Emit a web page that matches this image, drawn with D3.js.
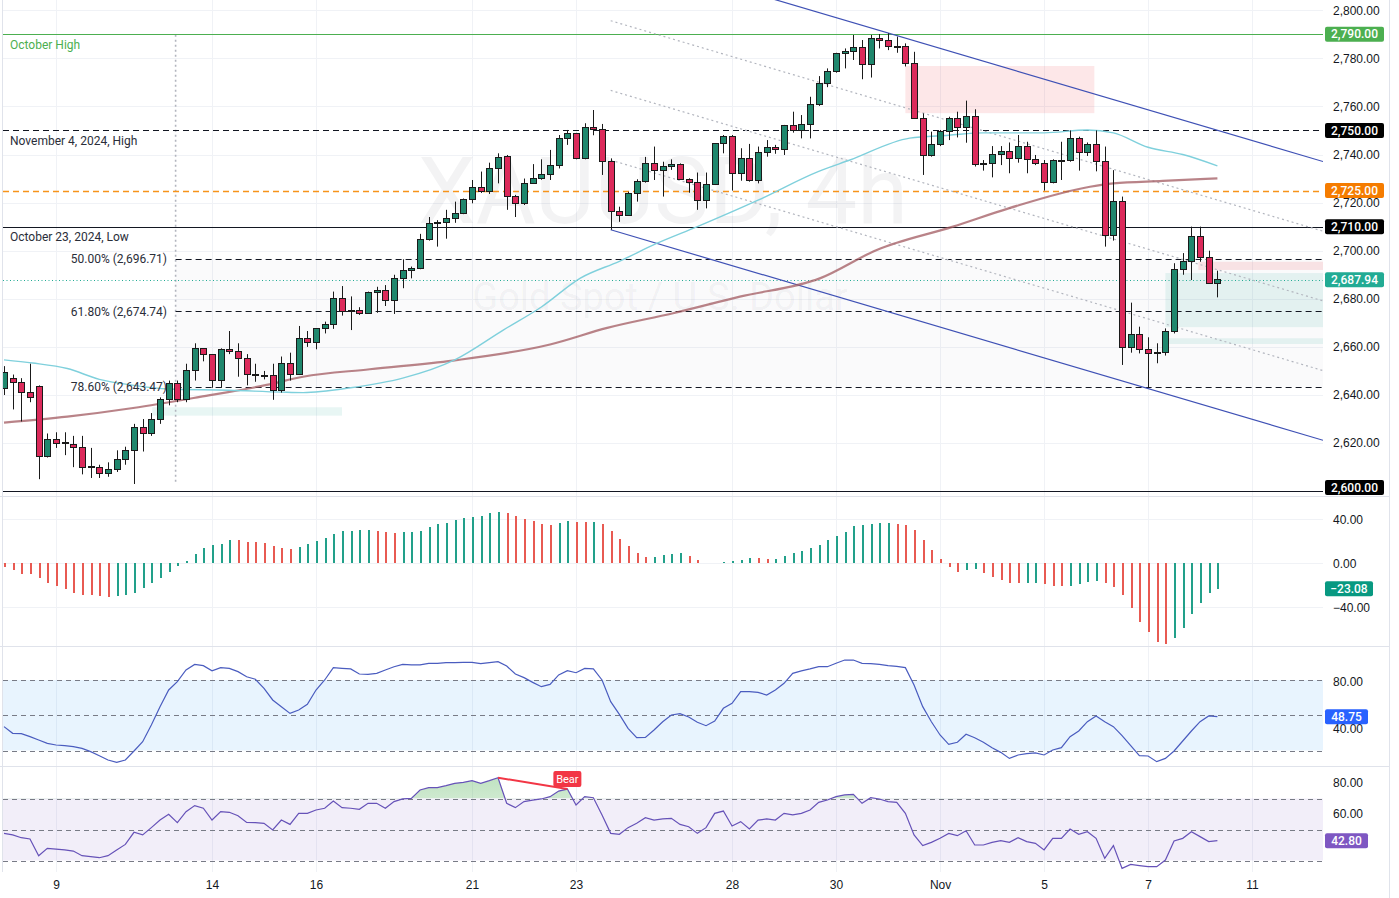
<!DOCTYPE html>
<html><head><meta charset="utf-8">
<script src="https://cdn.jsdelivr.net/npm/d3@7"></script>
<style>
html,body{margin:0;padding:0;background:#fff;}
svg{display:block;font-family:Roboto,"Liberation Sans",Arial,sans-serif;}
</style></head><body>
<svg id="chart" width="1399" height="898"></svg>
<script>
// ---------------- DATA ----------------
const open = [2642.5,2647,2645,2641,2643.5,2614.4,2621.6,2620,2619.6,2618,2610,2610,2607.5,2609,2613,2617,2626.6,2623.8,2630,2638,
2644.6,2638,2650,2659.4,2657,2646.2,2659,2658,2655,2648.7,2648,2648.3,2641.8,2653,2648.7,2663.5,2662,2667.7,2669.5,2680.2,
2674.7,2675,2674,2682.5,2683.3,2679.2,2688.5,2691.7,2692.7,2704.5,2711.4,2711.6,2713.5,2715.5,2721.3,2726.3,2724.5,2734.2,2739,2722.5,
2719.7,2728,2730,2731.5,2735.6,2746.7,2748.8,2738.4,2751.3,2750.5,2737,2716.2,2714.8,2723.6,2728.7,2736.3,2733.3,2735,2736,2729.7,
2728.3,2720.8,2727.7,2744.4,2747.4,2732.2,2738.4,2729.1,2740.8,2743,2742.2,2751.9,2750,2752.3,2760.6,2769.6,2774.7,2781.8,2783,2784.5,
2777.6,2788.3,2787.2,2784.8,2784.8,2777.8,2755,2739.4,2744,2749.5,2754.8,2751.3,2755.7,2736,2736.2,2739.8,2741.2,2738.4,2743.3,2738,
2736.3,2728.3,2737.4,2737.6,2746.7,2740.8,2744,2737,2706.5,2720.4,2659.9,2665.2,2659,2657.3,2657.5,2666.3,2692,2695.4,2706.1,2697.2,2686.4];
const high = [2652,2648.5,2647,2653,2644,2624,2624.5,2624.5,2623,2623,2618,2611,2612,2617,2618.5,2628,2630,2632.5,2639,2646,
2646,2653,2661.5,2659.4,2657,2659.4,2666.6,2661.5,2657,2653,2650,2653,2656,2657.6,2668.7,2666.6,2667.7,2670.5,2683,2685.3,
2681,2676.5,2683,2685,2685.7,2690,2696.4,2693.4,2707,2714,2712.7,2717,2720.4,2721.7,2729.4,2732.9,2736.6,2740.5,2739.8,2723.2,
2730,2736,2738,2741.9,2748.1,2750.2,2749,2753,2758.5,2752.7,2738.4,2718.3,2724.5,2729.7,2739,2743.3,2737,2738,2736.3,2730.1,
2732.5,2732.5,2744.7,2748.1,2748.1,2742.6,2744.4,2743.3,2746,2744,2752.3,2757.8,2756.4,2764,2772.6,2775.8,2782.3,2784.1,2789.7,2787.6,
2789.7,2790.1,2790.4,2789,2786.2,2782.7,2757.1,2749.5,2750.2,2755.7,2757.8,2762.4,2758.8,2737.7,2743.5,2743.5,2745,2748.1,2745.3,2739.8,
2737.7,2738,2745.3,2750,2747.4,2745,2750,2743.3,2733.5,2722.5,2678.4,2668.4,2664,2661.5,2667.7,2694.8,2699,2710,2710,2700,2691.7];
const low = [2640,2634,2629,2637,2605,2614,2618,2615,2610,2607,2605.5,2605.5,2606,2608,2611,2603,2616.5,2623,2628,2635.7,
2637,2637,2646,2654,2643,2643,2657,2647.6,2644,2645.5,2646.5,2638,2641,2646,2648.3,2660,2659,2665.6,2667.5,2673,
2667,2673.3,2673.7,2674.2,2677,2673.7,2684.4,2688.5,2692.3,2704.2,2701.7,2705,2711.6,2715.2,2719.7,2724,2723.6,2728,2717,2714,
2719,2727.8,2729.5,2729.4,2734.2,2744,2738,2738,2748,2731.5,2708.7,2712,2714.5,2720.4,2728.3,2729.4,2722.5,2733.6,2729.4,2724.1,
2717,2717.6,2727.3,2740.5,2725,2729.1,2728.7,2728,2739.1,2740.3,2739.8,2749.1,2746.7,2746.7,2760.2,2768,2774,2775.8,2779.3,2771.3,
2772,2784.1,2783.4,2782.3,2776.6,2755,2731.5,2739.1,2743.5,2746,2747.1,2744.9,2735,2733.3,2730.5,2735.6,2732.2,2736.6,2732.2,2735.6,
2725,2728,2729.4,2737,2733.3,2739.4,2733,2701.7,2704.2,2652.5,2657.6,2657.3,2643.2,2653.2,2656.4,2665.6,2690,2687.8,2695.4,2686.4,2680.6];
const close = [2649.5,2645,2641,2639,2614.4,2621.6,2620,2620.2,2618,2610,2610.2,2607.5,2609,2613,2617,2626.6,2623.8,2630,2638,2644.6,
2638,2650,2659.4,2657,2646.2,2659,2658,2655,2648.7,2648,2648.3,2641.8,2653,2648.7,2663.5,2662,2667.7,2669.5,2680.2,2674.7,
2675,2674,2682.5,2683.3,2679.2,2688.5,2691.7,2692.7,2704.5,2711.4,2711.6,2713.5,2715.5,2721.3,2726.3,2724.5,2734.2,2738.8,2722.5,2719.7,
2728,2730,2731.5,2735.6,2746.7,2748.8,2738.4,2751.3,2750.5,2737,2716.2,2714.8,2723.6,2728.7,2736.3,2733.3,2735,2736,2729.7,2728.3,
2720.8,2727.7,2744.4,2747.4,2732.2,2738.4,2729.1,2740.8,2743,2742.2,2751.9,2750,2752.3,2760.6,2769.6,2774.7,2781.8,2783,2784.5,2777.6,
2788.3,2787.2,2784.8,2784.6,2777.8,2755,2739.4,2744,2749.5,2754.8,2751.3,2755.7,2736,2736.2,2739.8,2741.2,2738.4,2743.3,2738,2736.3,
2728.3,2737.4,2737.6,2746.7,2740.8,2744,2737,2706.5,2720.4,2659.9,2665.2,2659,2657.3,2657.5,2666.3,2692,2695.4,2706.1,2697.2,2686.4,2687.94];

const macdHist = [-3,-6,-9.7,-10,-13,-18,-21,-23.6,-27,-28.8,-29,-29.4,-30.3,-29.4,-28.8,-26.7,-22.7,-18.2,-13,-7.6,
-2.4,2.4,8.2,13.9,16.5,17.5,21.5,21,19.4,19.1,18.2,15.8,13.6,13.3,15.2,17.6,20.3,23.3,26.4,29.4,
29.7,30.3,30.5,29.4,28.2,27.3,28.2,28.8,29.4,32.7,35.5,37,39.4,41,41.8,43.3,45.5,47,45.5,43,
40.3,38.5,35.5,35.2,36.4,38.5,37.9,37.6,37.9,35.5,29.4,22.1,15.8,9.1,5.5,6.1,7.6,8.2,9.4,6.7,
3,0.6,0.3,0.9,1.8,2.7,4.8,4.5,3.9,4.2,6.7,9.1,11.2,13.6,16.7,21.2,25.2,28.8,33.9,34.8,
35.8,36.7,37,35.8,34.8,30.6,21.2,12.1,3.9,-3,-7.6,-5.8,-5.5,-8.5,-12.1,-15.2,-17.6,-18.2,-18,-17.6,
-19.1,-20.3,-20.6,-20.3,-19.1,-16.7,-16,-17.6,-21.2,-28.8,-40.3,-53,-62.7,-71.2,-73.3,-67.6,-58.5,-46.4,-35.8,-26.7,-23.08];

const stochK = [40.3,34.6,34.4,31.8,28.9,26.1,24.7,24.1,23.3,21.8,19,15.6,11.9,9.9,11.9,19.6,27.5,41.7,57.3,71.5,
78.6,88.5,93.3,92.2,87.9,90.5,89.9,87.1,82.8,80.6,72.9,63,57.3,51.6,54.5,59.3,71.5,80,90.5,89.9,
89.4,85.1,84.8,85.7,88.5,91.3,93.3,92.8,92.8,94.2,94.2,94.8,94.8,95,95,93.9,94.8,95.6,91.9,85.1,
82,78,74.3,76.3,84.3,87.9,86.2,89.9,89.4,80,61.6,50.8,38.9,30.9,31.2,37.4,44.5,50.2,51.3,48.5,
44,41.1,45.1,55.9,60.1,70.1,70.1,69.5,67.2,71.5,77.2,85.7,87.7,89.4,91.3,91.3,94.2,97,97,94.2,
93.9,93.3,92.2,91.6,90.5,75.7,57.3,44.5,33.2,25.2,27,33.8,30.9,27,22.4,18.4,13.3,16.2,17.3,17.9,
16.2,20.4,22.4,31.8,36.6,44.5,49.4,44.5,40.3,32.6,24.1,15.6,15.3,10.5,13.3,19.6,28.1,36.6,44.5,49.4,48.75];

const rsi = [47.5,46.5,44.7,43.9,33.1,37.8,37.4,36.8,36.1,33.1,32.5,31.8,33.1,36.8,40.4,48.2,46.5,51.2,56.1,59.8,
54.4,61.5,65.4,63.7,56.1,61.5,61.1,58.9,54.6,54.4,54,49.7,56.1,53.3,60.4,60.4,62.6,63.7,68.4,64.1,
63.7,63,66.9,66.9,63.7,68,69.7,70.1,75.5,77,77,78.3,79.8,80.4,81.5,79.8,81.5,83.4,66.9,64.1,
68,69,69.7,71.2,74.8,76.1,65.8,71.2,70.5,59.4,47.5,46.9,51.2,54,57.6,56.1,56.8,57.2,53.3,51.8,
47.5,51.2,60.4,61.9,52.3,55.1,50.3,56.1,56.8,56.1,60.4,59.4,60.4,62.6,67.5,69,71.2,72.3,72.7,66.9,
70.5,69.7,68,67.5,60.4,46.5,39.6,41.7,44.3,47.5,46,49.2,40,40,41.7,42.8,41.7,44.7,42.2,41.1,
36.8,44.3,44.3,50.3,46.9,48.6,44.3,31.4,39.6,24.9,27.5,26.7,26,26,30.3,42.6,44.3,48.6,45.4,42.2,42.8];

// moving averages read at key bars (bar index, value)
const maFastIdx = [0,3.3,7.3,11,15,19,26,32,34.5,40,46,52,57.6,62,66.5,71,75.3,80,87,94,97.6,104.5,109,113,120,125,128,132,136,140];
const maFastVal = [2654.6,2653.3,2651,2646.5,2644,2642.5,2642,2641.2,2641,2643,2647,2654.6,2667,2676.6,2688.6,2695.6,2703,2710,2721,2733,2737.7,2746.8,2748,2749,2749,2750.2,2749,2743,2740,2735.3];
const maSlowIdx = [0,7.3,14.9,22.6,30.3,34.5,42.2,51.8,63,69.6,77.2,84.9,94.2,100.7,109.5,116,125.3,128,133.7,140];
const maSlowVal = [2628.5,2631,2634.6,2639.2,2644.2,2647.6,2650.7,2654.3,2661,2667.9,2674,2680.9,2688.6,2700.3,2710,2717.7,2726.6,2728,2729,2730.1];

const dateTickIdx = [6,24,36,54,66,84,96,108,120,132,144];
const dateTickLabels = ["9","14","16","21","23","28","30","Nov","5","7","11"];
const priceTicks = [2620,2640,2660,2680,2700,2720,2740,2760,2780,2800];

const levelPrices = [2790,2750,2725,2710,2600];
const levelLabels = ["October High","November 4, 2024, High","","October 23, 2024, Low",""];
const fibLow = 2603.6, fibHigh = 2789.8, fibStartIdx = 19.8;
const fibPcts = ["50.00%","61.80%","78.60%"];
const fibPrices = [2696.71,2674.74,2643.47];
const lastPrice = 2687.94;
// channel: anchor bar, anchor price, slope per bar, width in price
const chanIdx = 70, chanPrice = 2708.7, chanSlope = -1.065, chanWidth = 115.9;
// zones: [startIdx, endIdx, priceLow, priceHigh]
const pinkZones = [[104,125.8,2757.2,2776.8],[137.8,153,2692,2695.4]];
const tealZones = [[17.1,39,2631.4,2634.9],[134,153,2668.2,2690.7],[133.7,153,2661.2,2663.6]];
// divergence on RSI
const divIdx = [57,65];

// ---------------- SCALES ----------------
const svg = d3.select("#chart");
const PL = 3, PR = 1323, AX = 1333;
const x = d3.scaleLinear().domain([0,140]).range([4,1217.4]);
const yP = d3.scaleLinear().domain([2600,2800]).range([491.2,10.2]);
const yM = d3.scaleLinear().domain([-40,40]).range([607.3,519.3]);
const yS = d3.scaleLinear().domain([20,80]).range([750.5,680]);
const yR = d3.scaleLinear().domain([30,70]).range([860.5,798.5]);
const fmt = d3.format(",.2f");
const gridC = "#f0f2f6";

const defs = svg.append("defs");
function clip(id,y0,y1){defs.append("clipPath").attr("id",id).append("rect").attr("x",PL).attr("y",y0).attr("width",PR-PL).attr("height",y1-y0);}
clip("cMain",0,496);clip("cMacd",497,646.5);clip("cSto",647.5,766.5);clip("cRsi",767.5,872);
const grad = defs.append("linearGradient").attr("id","gOB").attr("x1",0).attr("y1",0).attr("x2",0).attr("y2",1);
grad.append("stop").attr("offset","0%").attr("stop-color","#4caf50").attr("stop-opacity",0.35);
grad.append("stop").attr("offset","100%").attr("stop-color","#4caf50").attr("stop-opacity",0.02);
defs.append("clipPath").attr("id","cAbove70").append("rect").attr("x",PL).attr("y",767.5).attr("width",PR-PL).attr("height",yR(70)-767.5);

// ---------------- GRID / FRAME ----------------
const grid = svg.append("g").attr("shape-rendering","crispEdges");
grid.selectAll(".vg").data(dateTickIdx).join("line").attr("x1",d=>Math.round(x(d))+0.5).attr("x2",d=>Math.round(x(d))+0.5)
  .attr("y1",0).attr("y2",872).attr("stroke",gridC);
grid.selectAll(".hg").data(priceTicks).join("line").attr("x1",PL).attr("x2",PR).attr("y1",d=>Math.round(yP(d))+0.5).attr("y2",d=>Math.round(yP(d))+0.5).attr("stroke",gridC);
grid.selectAll(".mg").data([-40,0,40]).join("line").attr("x1",PL).attr("x2",PR).attr("y1",d=>Math.round(yM(d))+0.5).attr("y2",d=>Math.round(yM(d))+0.5).attr("stroke",gridC);

// ---------------- MAIN PANE ----------------
const gm = svg.append("g").attr("clip-path","url(#cMain)");
// watermark
gm.append("text").attr("x",663).attr("y",223).attr("text-anchor","middle").attr("font-size",92)
  .attr("fill","#131722").attr("fill-opacity",0.05).text("XAUUSD, 4h");
gm.append("text").attr("x",660).attr("y",310).attr("text-anchor","middle").attr("font-size",38)
  .attr("fill","#131722").attr("fill-opacity",0.05).text("Gold Spot / U.S. Dollar");

// fib background
gm.append("rect").attr("x",x(fibStartIdx)).attr("width",PR-x(fibStartIdx))
  .attr("y",yP(fibPrices[0])).attr("height",yP(fibPrices[2])-yP(fibPrices[0]))
  .attr("fill","#787b86").attr("fill-opacity",0.035);
// zones
gm.selectAll(".pz").data(pinkZones).join("rect").attr("x",d=>x(d[0])).attr("width",d=>x(d[1])-x(d[0]))
  .attr("y",d=>yP(d[3])).attr("height",d=>yP(d[2])-yP(d[3])).attr("fill","#f23645").attr("fill-opacity",0.12);
gm.selectAll(".tz").data(tealZones).join("rect").attr("x",d=>x(d[0])).attr("width",d=>x(d[1])-x(d[0]))
  .attr("y",d=>yP(d[3])).attr("height",d=>yP(d[2])-yP(d[3])).attr("fill","#22ab94").attr("fill-opacity",0.1);

// fib vertical trend line
gm.append("line").attr("x1",x(fibStartIdx)).attr("x2",x(fibStartIdx)).attr("y1",yP(fibHigh)).attr("y2",yP(fibLow))
  .attr("stroke","#b2b5be").attr("stroke-width",1.6).attr("stroke-dasharray","2,3");
// fib levels
gm.selectAll(".fl").data(fibPrices).join("line").attr("x1",x(fibStartIdx)).attr("x2",PR)
  .attr("y1",d=>Math.round(yP(d))+0.5).attr("y2",d=>Math.round(yP(d))+0.5)
  .attr("stroke","#131722").attr("stroke-dasharray","6,4");
// horizontal levels
const lvlStyle = [{c:"#4caf50",d:null,w:1},{c:"#131722",d:"6,4",w:1},{c:"#f7931a",d:"6,4",w:1.3},{c:"#131722",d:null,w:1},{c:"#131722",d:null,w:1}];
gm.selectAll(".lv").data(levelPrices).join("line").attr("x1",PL).attr("x2",PR)
  .attr("y1",d=>Math.round(yP(d))+0.5).attr("y2",d=>Math.round(yP(d))+0.5)
  .attr("stroke",(d,i)=>lvlStyle[i].c).attr("stroke-width",(d,i)=>lvlStyle[i].w).attr("stroke-dasharray",(d,i)=>lvlStyle[i].d);
// last price dotted
gm.append("line").attr("x1",PL).attr("x2",PR).attr("y1",Math.round(yP(lastPrice))+0.5).attr("y2",Math.round(yP(lastPrice))+0.5)
  .attr("stroke","#22ab94").attr("stroke-dasharray","1,2.5");

// channel
const chanEnd = x.invert(PR);
function chanP(i,off){return chanPrice+(i-chanIdx)*chanSlope+off*chanWidth;}
[0.25,0.5,0.75].forEach(f=>{
  gm.append("line").attr("x1",x(chanIdx)).attr("y1",yP(chanP(chanIdx,f))).attr("x2",PR).attr("y2",yP(chanP(chanEnd,f)))
   .attr("stroke","#b2b5be").attr("stroke-width",1.2).attr("stroke-dasharray","2,3");
});
[0,1].forEach(f=>{
  gm.append("line").attr("x1",x(chanIdx)).attr("y1",yP(chanP(chanIdx,f))).attr("x2",PR).attr("y2",yP(chanP(chanEnd,f)))
   .attr("stroke","#3f51b5").attr("stroke-width",1.2);
});

// moving averages
const maLine = d3.line().x(d=>x(d[0])).y(d=>yP(d[1])).curve(d3.curveMonotoneX);
gm.append("path").attr("d",maLine(maSlowIdx.map((d,i)=>[d,maSlowVal[i]]))).attr("fill","none")
  .attr("stroke","#a15a60").attr("stroke-opacity",0.75).attr("stroke-width",2.2);
gm.append("path").attr("d",maLine(maFastIdx.map((d,i)=>[d,maFastVal[i]]))).attr("fill","none")
  .attr("stroke","#7fd0dc").attr("stroke-width",1.4);

// candles
const idx = d3.range(open.length);
const cg = gm.append("g");
const green = "#1f876d", red = "#dc2a5b", edge = "#1a1a1a";
cg.selectAll(".wick").data(idx).join("line")
  .attr("x1",i=>Math.round(x(i))+0.5).attr("x2",i=>Math.round(x(i))+0.5)
  .attr("y1",i=>yP(high[i])).attr("y2",i=>yP(low[i])).attr("stroke",edge).attr("stroke-width",1);
cg.selectAll(".body").data(idx).join("rect")
  .attr("x",i=>Math.round(x(i))-2.5).attr("width",6)
  .attr("y",i=>yP(Math.max(open[i],close[i])))
  .attr("height",i=>Math.max(1,Math.abs(yP(open[i])-yP(close[i]))))
  .attr("fill",i=>close[i]>=open[i]?green:red).attr("stroke",edge).attr("stroke-width",1)
  .attr("shape-rendering","crispEdges");

// labels in main pane
const lbl = svg.append("g").attr("font-size",12);
levelPrices.forEach((p,i)=>{ if(levelLabels[i]) lbl.append("text").attr("x",10).attr("y",yP(p)+10.5).attr("dy","0.35em")
  .attr("fill",i===0?"#4caf50":"#2a2e39").text(levelLabels[i]); });
fibPrices.forEach((p,i)=>{
  lbl.append("text").attr("x",167).attr("y",yP(p)).attr("dy","0.35em").attr("text-anchor","end").attr("fill","#2a2e39")
   .text(fibPcts[i]+" ("+fmt(p)+")"); });

// ---------------- MACD PANE ----------------
const gmac = svg.append("g").attr("clip-path","url(#cMacd)").attr("shape-rendering","crispEdges");
gmac.selectAll("rect").data(idx).join("rect")
  .attr("x",i=>Math.round(x(i))-0.5).attr("width",2)
  .attr("y",i=>yM(Math.max(0,macdHist[i]))).attr("height",i=>Math.abs(yM(macdHist[i])-yM(0)))
  .attr("fill",i=>(i>0&&macdHist[i]>macdHist[i-1])?"#22a08a":"#e85a52");

// ---------------- STOCH PANE ----------------
const gs = svg.append("g").attr("clip-path","url(#cSto)");
gs.append("rect").attr("x",PL).attr("width",PR-PL).attr("y",yS(80)).attr("height",yS(20)-yS(80)).attr("fill","#2196f3").attr("fill-opacity",0.1);
gs.selectAll(".sd").data([80,50,20]).join("line").attr("x1",PL).attr("x2",PR)
  .attr("y1",d=>Math.round(yS(d))+0.5).attr("y2",d=>Math.round(yS(d))+0.5)
  .attr("stroke","#787b86").attr("stroke-dasharray","5,4").attr("shape-rendering","crispEdges");
gs.append("path").attr("d",d3.line().x((d,i)=>x(i)).y(d=>yS(d))(stochK)).attr("fill","none").attr("stroke","#4a5cbf").attr("stroke-width",1.2);

// ---------------- RSI PANE ----------------
const gr = svg.append("g").attr("clip-path","url(#cRsi)");
gr.append("rect").attr("x",PL).attr("width",PR-PL).attr("y",yR(70)).attr("height",yR(30)-yR(70)).attr("fill","#7e57c2").attr("fill-opacity",0.1);
gr.selectAll(".rd").data([70,50,30]).join("line").attr("x1",PL).attr("x2",PR)
  .attr("y1",d=>Math.round(yR(d))+0.5).attr("y2",d=>Math.round(yR(d))+0.5)
  .attr("stroke","#787b86").attr("stroke-dasharray","5,4").attr("shape-rendering","crispEdges");
gr.append("path").attr("clip-path","url(#cAbove70)")
  .attr("d",d3.area().x((d,i)=>x(i)).y0(yR(70)).y1(d=>yR(d))(rsi)).attr("fill","url(#gOB)");
gr.append("path").attr("d",d3.line().x((d,i)=>x(i)).y(d=>yR(d))(rsi)).attr("fill","none").attr("stroke","#6652b8").attr("stroke-width",1.2);
gr.append("line").attr("x1",x(divIdx[0])).attr("y1",yR(rsi[divIdx[0]])).attr("x2",x(divIdx[1])).attr("y2",yR(rsi[divIdx[1]]))
  .attr("stroke","#f23645").attr("stroke-width",2);
const bx = x(divIdx[1]);
svg.append("rect").attr("x",bx-14).attr("y",771).attr("width",28).attr("height",16).attr("rx",2).attr("fill","#f23645");
svg.append("text").attr("x",bx).attr("y",779).attr("dy","0.35em").attr("text-anchor","middle").attr("font-size",11).attr("fill","#fff").text("Bear");

// ---------------- FRAME LINES ----------------
const fr = svg.append("g").attr("stroke","#e0e3eb").attr("shape-rendering","crispEdges");
[496.5,646.5,766.5].forEach(y=>fr.append("line").attr("x1",0).attr("x2",1390).attr("y1",y).attr("y2",y));
fr.append("line").attr("x1",2.5).attr("x2",2.5).attr("y1",0).attr("y2",872);
fr.append("line").attr("x1",1389.5).attr("x2",1389.5).attr("y1",0).attr("y2",898);

// ---------------- AXES ----------------
function styleAxis(g){ g.select(".domain").remove(); g.selectAll("text").attr("fill","#131722").attr("font-size",12).attr("font-family",null); }
svg.append("g").attr("transform",`translate(${AX},0)`)
  .call(d3.axisRight(yP).tickValues(priceTicks).tickSize(0).tickPadding(0).tickFormat(fmt)).call(styleAxis);
svg.append("g").attr("transform",`translate(${AX},0)`)
  .call(d3.axisRight(yM).tickValues([-40,0,40]).tickSize(0).tickPadding(0).tickFormat(fmt)).call(styleAxis);
svg.append("g").attr("transform",`translate(${AX},2)`)
  .call(d3.axisRight(yS).tickValues([40,80]).tickSize(0).tickPadding(0).tickFormat(fmt)).call(styleAxis);
svg.append("g").attr("transform",`translate(${AX},0)`)
  .call(d3.axisRight(yR).tickValues([60,80]).tickSize(0).tickPadding(0).tickFormat(fmt)).call(styleAxis);
svg.append("g").attr("transform","translate(0,877)")
  .call(d3.axisBottom(x).tickValues(dateTickIdx).tickSize(0).tickPadding(3).tickFormat((d,i)=>dateTickLabels[i])).call(styleAxis);

// axis value boxes
function box(y,text,color,w){
  svg.append("rect").attr("x",1325).attr("y",y-7.5).attr("width",w).attr("height",15).attr("rx",2).attr("fill",color);
  svg.append("text").attr("x",1325+w/2).attr("y",y).attr("dy","0.35em").attr("text-anchor","middle").attr("font-size",12)
    .attr("fill","#fff").attr("font-weight",500).text(text);
}
const boxColors = ["#4caf50","#000000","#f57c00","#000000","#000000"];
levelPrices.forEach((p,i)=>box(Math.min(yP(p),487.5),fmt(p),boxColors[i],59));
box(yP(lastPrice),fmt(lastPrice),"#22ab94",59);
box(yM(macdHist[macdHist.length-1]),fmt(macdHist[macdHist.length-1]),"#089981",48);
box(yS(stochK[stochK.length-1]),fmt(stochK[stochK.length-1]),"#2962ff",43);
box(yR(rsi[rsi.length-1]),fmt(rsi[rsi.length-1]),"#7e57c2",43);
</script></body></html>
